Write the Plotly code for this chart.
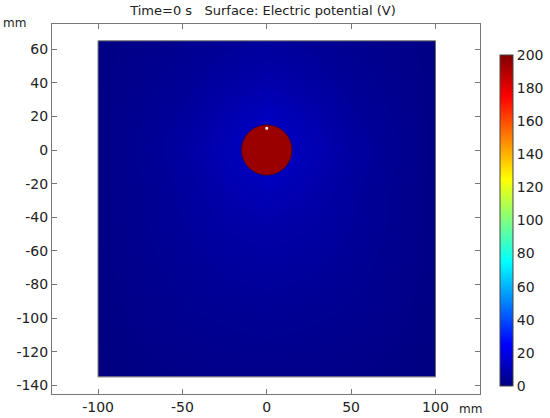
import plotly.graph_objects as go

# ---- data ----
x_mm = [-100, -75, -50, -25, 0, 25, 50, 75, 100]
y_mm = [65, 45, 25, 10, 0, -10, -25, -45, -70, -100, -135]
potential_V = [
    [1.0, 2.0, 3.0, 4.5, 5.5, 4.5, 3.0, 2.0, 1.0],
    [1.0, 2.5, 4.0, 6.0, 8.0, 6.0, 4.0, 2.5, 1.0],
    [1.0, 3.0, 5.0, 8.5, 11.5, 8.5, 5.0, 3.0, 1.0],
    [1.0, 3.5, 6.0, 10.0, 14.0, 10.0, 6.0, 3.5, 1.0],
    [1.0, 3.5, 6.5, 10.5, 14.0, 10.5, 6.5, 3.5, 1.0],
    [1.0, 3.5, 6.0, 10.0, 14.0, 10.0, 6.0, 3.5, 1.0],
    [1.0, 3.0, 5.5, 8.5, 11.0, 8.5, 5.5, 3.0, 1.0],
    [1.0, 3.0, 5.0, 7.0, 8.0, 7.0, 5.0, 3.0, 1.0],
    [1.0, 2.5, 4.0, 5.5, 6.0, 5.5, 4.0, 2.5, 1.0],
    [0.5, 2.0, 3.0, 3.5, 4.0, 3.5, 3.0, 2.0, 0.5],
    [0.0, 1.0, 1.5, 2.0, 2.0, 2.0, 1.5, 1.0, 0.0],
]
electrode_center = [0, 0]
electrode_radius = 15
electrode_V = 200
probe_point = [0, 13]
probe_radius = 0.9
domain_x = [-100, 100]
domain_y = [-135, 65]
x_ticks = [-100, -50, 0, 50, 100]
y_ticks = [-140, -120, -100, -80, -60, -40, -20, 0, 20, 40, 60]
cbar_ticks = [0, 20, 40, 60, 80, 100, 120, 140, 160, 180, 200]
v_range = [0, 200]

jet = [
    [0.0, "rgb(0,0,128)"],
    [0.125, "rgb(0,0,255)"],
    [0.375, "rgb(0,255,255)"],
    [0.625, "rgb(255,255,0)"],
    [0.875, "rgb(255,0,0)"],
    [1.0, "rgb(128,0,0)"],
]

FONT = "DejaVu Sans"

fig = go.Figure()
fig.add_trace(go.Contour(
    x=x_mm, y=y_mm, z=potential_V,
    zmin=v_range[0], zmax=v_range[1], zauto=False,
    colorscale=jet,
    contours=dict(coloring="heatmap", showlines=False),
    line=dict(width=0),
    ncontours=40,
    hoverinfo="skip",
    colorbar=dict(
        x=1.047, xanchor="left", xpad=0,
        y=0.469, yanchor="middle", ypad=0,
        len=0.895, lenmode="fraction",
        thickness=13,
        outlinewidth=1, outlinecolor="#444",
        tickmode="array", tickvals=cbar_ticks, ticktext=[str(v) for v in cbar_ticks],
        ticks="",
        tickfont=dict(family=FONT, size=14, color="#222"),
    ),
))

# rectangle outline of the domain
fig.add_shape(type="rect", x0=domain_x[0], x1=domain_x[1], y0=domain_y[0], y1=domain_y[1],
              line=dict(color="#666", width=1), fillcolor="rgba(0,0,0,0)")

# electrode circle (value 200 V -> top of colour scale)
fig.add_shape(type="circle",
              x0=electrode_center[0] - electrode_radius, x1=electrode_center[0] + electrode_radius,
              y0=electrode_center[1] - electrode_radius, y1=electrode_center[1] + electrode_radius,
              fillcolor="rgb(155,0,0)", line=dict(color="rgb(55,5,50)", width=1))

# small probe point
fig.add_shape(type="circle",
              x0=probe_point[0] - probe_radius, x1=probe_point[0] + probe_radius,
              y0=probe_point[1] - probe_radius, y1=probe_point[1] + probe_radius,
              fillcolor="white", line=dict(color="white", width=0))

axis_common = dict(showgrid=False, zeroline=False, showline=True, linecolor="#777", linewidth=1,
                   mirror="ticks", ticks="inside", ticklen=5, tickcolor="#777", automargin=False,
                   tickfont=dict(family=FONT, size=14, color="#222"))

fig.update_layout(
    template="none",
    width=550, height=418,
    margin=dict(l=52, r=70, t=24, b=24, autoexpand=False),
    paper_bgcolor="white", plot_bgcolor="white",
    showlegend=False,
    title=dict(text="Time=0 s\u00a0\u00a0\u00a0Surface: Electric potential (V)",
               x=0.493, xanchor="center", xref="paper", y=0.974, yanchor="middle", yref="container",
               font=dict(family=FONT, size=13, color="#222")),
    xaxis=dict(range=[-127.3, 126.4], tickvals=x_ticks, ticktext=[str(v) for v in x_ticks], **axis_common),
    yaxis=dict(range=[-145.2, 75], tickvals=y_ticks, ticktext=[str(v) for v in y_ticks], **axis_common),
    annotations=[
        dict(text="mm", xref="paper", yref="paper", x=-0.088, y=1.003, xanchor="center", yanchor="middle",
             showarrow=False, font=dict(family=FONT, size=12, color="#222")),
        dict(text="mm", xref="paper", yref="paper", x=0.977, y=-0.04, xanchor="center", yanchor="middle",
             showarrow=False, font=dict(family=FONT, size=12, color="#222")),
    ],
)

fig.write_html("out.html", config={"displayModeBar": False},
               post_script="document.body.style.margin='0';document.body.style.padding='0';")
